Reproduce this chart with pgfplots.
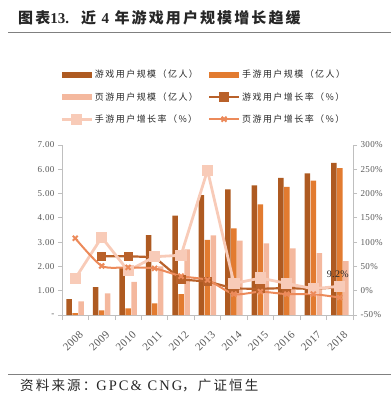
\documentclass[border=0pt]{standalone}
\usepackage{fontspec}
\setmainfont{Liberation Serif}
\newfontfamily\cjkt[LetterSpace=14]{Noto Sans CJK SC}
\newfontfamily\cjkls[LetterSpace=16]{Noto Sans CJK SC}
\newfontfamily\serls[LetterSpace=14]{Liberation Serif}
\newfontfamily\sert[LetterSpace=4]{Liberation Serif}
\usepackage{pgfplots}
\pgfplotsset{compat=1.18}
\definecolor{c1}{HTML}{AE5A21}
\definecolor{c2}{HTML}{E27B30}
\definecolor{c3}{HTML}{F4B89E}
\definecolor{l1}{HTML}{B9612A}
\definecolor{l2}{HTML}{F8CBB8}
\definecolor{l3}{HTML}{EC8A5A}
\definecolor{tickc}{HTML}{595959}
\definecolor{axc}{HTML}{BFBFBF}
\definecolor{txt}{HTML}{262626}
\pgfplotsset{
  barleg/.style={legend image code/.code={\fill[##1] (0pt,-3pt) rectangle (30pt,3pt);}},
  linleg/.style={legend image code/.code={\draw[mark repeat=2,mark phase=2,##1] plot coordinates {(0pt,0pt) (15pt,0pt) (30pt,0pt)};}},
}
\begin{document}
\begin{tikzpicture}
\path[use as bounding box] (0pt,0pt) rectangle (391pt,-400pt);
\node[anchor=west, inner sep=0pt, text=txt] at (18pt,-18pt) {\fontsize{15}{17}\cjkt\bfseries 图表{\fontsize{15}{17}\selectfont\rmfamily\bfseries 13.}\hspace{12pt}近 {\rmfamily\bfseries 4} 年游戏用户规模增长趋缓};
\draw[color=gray, line width=1pt] (8pt,-32.3pt) -- (391pt,-32.3pt);

\begin{axis}[
  at={(62pt,-315pt)}, anchor=south west,
  scale only axis, width=291pt, height=170pt,
  xmin=-0.5, xmax=10.5, ymin=0, ymax=7,
  axis x line*=bottom, axis y line*=left,
  axis line style={draw=axc, line width=0.8pt},
  tick align=outside,
  major tick length=4pt, minor tick length=5pt,
  tick style={draw=axc, line width=0.8pt},
  xtick={0,...,10},
  xticklabels={2008,2009,2010,2011,2012,2013,2014,2015,2016,2017,2018},
  major x tick style={draw=none},
  minor xtick={-0.5,0.5,...,10.5},
  xticklabel style={rotate=45, anchor=east, font=\fontsize{11}{12}\sert, text=tickc, xshift=-2pt, yshift=-14pt},
  ytick={0,...,7},
  yticklabels={{-\hspace{8pt}},1.00,2.00,3.00,4.00,5.00,6.00,7.00},
  yticklabel style={font=\fontsize{9}{10}\sert, text=tickc},
  ybar, bar width=5.5pt,
]
\addplot[fill=c1, draw=none, bar shift=-6pt] coordinates {(0,0.65) (1,1.15) (2,1.95) (3,3.29) (4,4.09) (5,4.94) (6,5.17) (7,5.34) (8,5.65) (9,5.83) (10,6.26)};
\addplot[fill=c2, draw=none, bar shift=0pt] coordinates {(0,0.08) (1,0.19) (2,0.27) (3,0.48) (4,0.86) (5,3.09) (6,3.57) (7,4.56) (8,5.28) (9,5.53) (10,6.05)};
\addplot[fill=c3, draw=none, bar shift=6pt] coordinates {(0,0.56) (1,0.89) (2,1.36) (3,2.00) (4,2.70) (5,3.28) (6,3.06) (7,2.95) (8,2.74) (9,2.55) (10,2.22)};
\end{axis}

\begin{axis}[
  at={(62pt,-315pt)}, anchor=south west,
  scale only axis, width=291pt, height=170pt,
  xmin=-0.5, xmax=10.5, ymin=-50, ymax=300,
  axis x line=none, axis y line*=right,
  axis line style={draw=axc, line width=0.8pt},
  tick align=outside, major tick length=4pt,
  tick style={draw=axc, line width=0.8pt},
  ytick={-50,0,50,100,150,200,250,300},
  yticklabels={-50\%,0\%,50\%,100\%,150\%,200\%,250\%,300\%},
  yticklabel style={font=\fontsize{9}{10}\sert, text=tickc},
  legend columns=2,
  legend cell align=left,
  legend style={at={(0,1)}, anchor=north west, xshift=-5pt, yshift=79pt,
    draw=none, fill=none, font=\fontsize{9}{10}\cjkls, text=txt,
    row sep=9pt,
    /tikz/every even column/.append style={column sep=8pt}},
]
\addlegendimage{barleg, fill=c1, draw=none}
\addlegendentry{游戏用户规模（亿人）}
\addlegendimage{barleg, fill=c2, draw=none}
\addlegendentry{手游用户规模（亿人）}
\addlegendimage{barleg, fill=c3, draw=none}
\addlegendentry{页游用户规模（亿人）}
\addplot[color=l1, line width=2.2pt, mark=square*, mark size=3.5pt, mark options={fill=l1}, linleg] coordinates {(1,71) (2,71) (3,69) (4,23) (5,19) (6,4.5) (7,4) (8,5.5) (9,3.5) (10,7.3)};
\addlegendentry{游戏用户增长率（\%）}
\addplot[color=l2, line width=2.8pt, mark=square*, mark size=4.2pt, mark options={fill=l2}, linleg] coordinates {(0,25) (1,110) (2,41) (3,70) (4,73) (5,248) (6,15) (7,26) (8,15) (9,4) (10,9.2)};
\addlegendentry{手游用户增长率（\%）}
\addplot[color=l3, line width=2pt, mark=x, mark size=3.5pt, smooth, tension=0.4, linleg] coordinates {(0,108) (1,51) (2,48) (3,46) (4,30) (5,22) (6,-7) (7,-2) (8,-7) (9,-7) (10,-14)};
\addlegendentry{页游用户增长率（\%）}
\node[anchor=south, inner sep=0pt, font=\fontsize{10}{12}\sert, text=txt, yshift=8pt, xshift=-2pt] at (axis cs:10,9.2) {9.2\%};
\end{axis}

\draw[color=gray, line width=1pt] (8pt,-374pt) -- (391pt,-374pt);
\node[anchor=west, inner sep=0pt, text=txt] at (20pt,-386pt) {{\fontsize{13.5}{15}\cjkls 资料来源：}{\fontsize{14.5}{16}\serls GPC\& CNG}{\fontsize{13.5}{15}\cjkls ，广证恒生}};
\end{tikzpicture}
\end{document}
